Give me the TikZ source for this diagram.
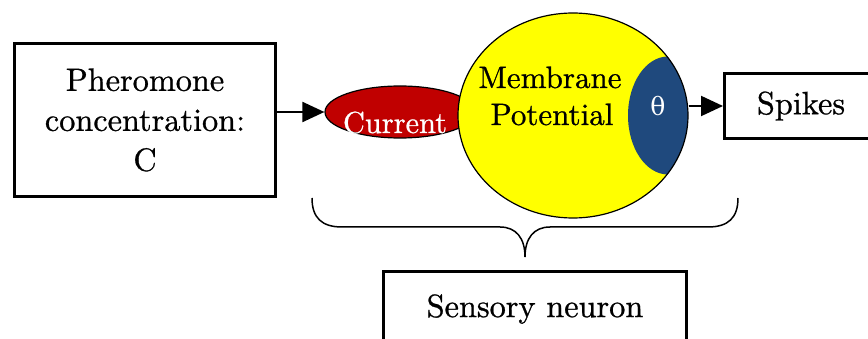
\documentclass[tikz,border=0pt]{standalone}
\usepackage{fontspec}
\setmainfont{lmroman10-regular.otf}[FakeBold=0.8]
\newfontfamily\greekfont{DejaVu Serif}
\usetikzlibrary{arrows.meta,shapes.geometric}
\definecolor{curred}{HTML}{C00000}
\definecolor{membyellow}{HTML}{FFFF00}
\definecolor{thrblue}{HTML}{1F497D}
\begin{document}
\begin{tikzpicture}[x=1pt,y=-1pt,
  box/.style={draw, line width=3pt, align=center, inner sep=0pt,
    font=\fontsize{32.3}{40}\selectfont},
  lbl/.style={font=\fontsize{31}{37}\selectfont, inner sep=0pt},
  arr/.style={line width=2pt, -{Triangle[length=22pt,width=20pt]}},
  bracepath/.style={line width=1.5pt},
]
\useasboundingbox (0,0) rectangle (868,339);
\clip (0,0) rectangle (868,339);

% input and output boxes
\node[box, minimum width=261pt, minimum height=153pt] (pher) at (145,120)
  {Pheromone\\concentration:\\C};
\node[box, minimum width=153pt, minimum height=65pt] (spikes) at (801,106) {Spikes};
\node[box, minimum width=303pt, minimum height=75pt] (sens) at (535,309) {Sensory neuron};

% neuron: input current, membrane potential and threshold
\node[ellipse, draw, fill=curred, line width=1.2pt, inner sep=0pt,
  minimum width=150pt, minimum height=52pt] (cur) at (400,112) {};
\node[ellipse, draw, fill=membyellow, line width=1.2pt, inner sep=0pt,
  minimum width=230pt, minimum height=205pt,
  path picture={\fill[thrblue] ([xshift=-20pt]path picture bounding box.east)
    ellipse [x radius=40pt, y radius=59pt];}] (memb) at (573,115.5) {};

\node[lbl, font=\fontsize{30.4}{37}\selectfont, text=white, anchor=base] (curtxt) at (395,133) {Current};
\node[lbl, anchor=base] (membtxt1) at (550,88) {Membrane};
\node[lbl, anchor=base] (membtxt2) at (552,125) {Potential};
\node[font=\greekfont\fontsize{25}{30}\selectfont, text=white, inner sep=0pt] (theta) at (658,106) {θ};

% signal flow
\draw[arr] (pher.east |- cur.west) -- (cur.west);
\draw[arr] (memb.east |- spikes.west) -- (spikes.west);

% brace grouping the neuron parts
\draw[bracepath] (312,198) .. controls (312,218) and (322,227) .. (342,227)
  -- (500,227) .. controls (516,227) and (525,238) .. (525,257)
  .. controls (525,238) and (534,227) .. (550,227)
  -- (708,227) .. controls (728,227) and (738,218) .. (738,198);
\end{tikzpicture}
\end{document}
